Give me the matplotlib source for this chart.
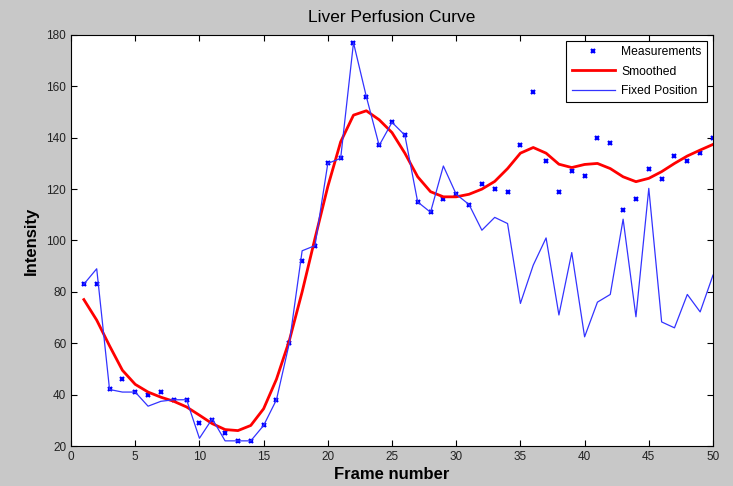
import matplotlib
matplotlib.use("Agg")
import matplotlib.pyplot as plt
import numpy as np

plt.rcParams['font.family'] = ['Liberation Sans', 'DejaVu Sans']

frames = np.arange(1, 51)

measurements = [83, 83, 42, 46, 41, 40, 41, 38, 38, 29,
                30, 25, 22, 22, 28, 38, 60, 92, 98, 130,
                132, 177, 156, 137, 146, 141, 115, 111, 116, 118,
                114, 122, 120, 119, 137, 158, 131, 119, 127, 125,
                140, 138, 112, 116, 128, 124, 133, 131, 134, 140]

smoothed = [77, 69, 59, 49.5, 44, 41, 39, 37.4, 35.2, 32,
            28.7, 26.4, 26, 28, 34.5, 46, 61, 80, 100.8, 121,
            138.4, 148.8, 150.5, 147, 142, 134, 124.8, 119, 117, 117,
            118, 120, 123, 128, 134, 136.2, 134, 129.7, 128.4, 129.6,
            130, 128, 124.8, 122.9, 124.2, 126.8, 130, 132.9, 135.2, 137.4]

fixed_position = [83, 89, 42, 41, 41, 35.5, 37.4, 38, 38, 23,
                  30.6, 22, 22, 22, 28, 38, 60, 96, 98, 130,
                  132, 177, 156, 137, 146, 141, 115, 111, 129, 118,
                  114, 104, 109, 106.6, 75.5, 90.4, 101, 71, 95.3, 62.5,
                  76, 79, 108.3, 70.3, 120.3, 68.3, 66, 79, 72.2, 86.5]

bg = '#c8c8c8'
fig = plt.figure(figsize=(7.33, 4.86), dpi=100, facecolor=bg)
ax = fig.add_axes([0.0969, 0.0823, 0.8758, 0.8457])

ax.plot(frames, measurements, 'x', color='#0000ff', markersize=3.5,
        markeredgewidth=1.6, label='Measurements')
ax.plot(frames, smoothed, '-', color='#ff0000', linewidth=2, label='Smoothed')
ax.plot(frames, fixed_position, '-', color='#3333ff', linewidth=0.9,
        label='Fixed Position')

ax.set_xlim(0, 50)
ax.set_ylim(20, 180)
ax.set_xticks(np.arange(0, 51, 5))
ax.set_yticks(np.arange(20, 181, 20))
ax.tick_params(direction='in', top=True, right=True, labelsize=8.5,
               length=4, width=0.8, colors='black', labelcolor='#222222')
for s in ax.spines.values():
    s.set_linewidth(0.8)

ax.set_title('Liver Perfusion Curve', fontsize=12.5, pad=9)
ax.set_xlabel('Frame number', fontsize=12, fontweight='bold', labelpad=3)
ax.set_ylabel('Intensity', fontsize=12, fontweight='bold', labelpad=5)

leg = ax.legend(loc='upper right', fontsize=8.7, fancybox=False,
                edgecolor='black', framealpha=1, borderaxespad=0.5,
                handlelength=3.6, labelspacing=0.6, borderpad=0.45,
                handletextpad=0.5)
leg.get_frame().set_linewidth(0.8)

fig.savefig('out.png', dpi=100, facecolor=bg)
